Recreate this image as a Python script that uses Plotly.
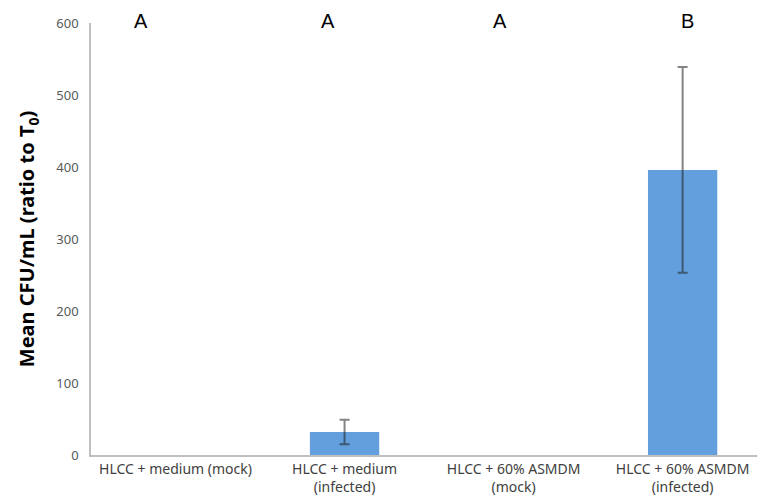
import plotly.graph_objects as go

categories = ["HLCC + medium (mock)", "HLCC + medium<br>(infected)",
              "HLCC + 60% ASMDM<br>(mock)", "HLCC + 60% ASMDM<br>(infected)"]
values = [0, 32, 0, 396]
errors = [0, 17, 0, 143]
letters = ["A", "A", "A", "B"]
letter_x = [141, 328, 500, 687]
y_ticks = [0, 100, 200, 300, 400, 500, 600]

W, H = 757, 499
ml, mr, mt, mb = 91, 0, 23, 44
pw, ph = W - ml - mr, H - mt - mb

xs = list(range(len(categories)))
fig = go.Figure()
fig.add_trace(go.Bar(
    x=xs, y=values,
    width=0.41,
    marker=dict(color="#629fdc", line=dict(width=0)),
    hoverinfo="skip",
))
ex = [x for x, e in zip(xs, errors) if e > 0]
ey = [v for v, e in zip(values, errors) if e > 0]
ee = [e for e in errors if e > 0]
fig.add_trace(go.Scatter(
    x=ex, y=ey, mode="markers", marker=dict(size=1, opacity=0),
    error_y=dict(type="data", array=ee, visible=True,
                 color="rgba(30,30,30,0.55)", thickness=2, width=5),
    hoverinfo="skip",
))

for lx, lt in zip(letter_x, letters):
    fig.add_annotation(x=(lx - ml) / pw, y=(H - mb - 20.5) / ph, xref="paper", yref="paper",
                       text=lt, showarrow=False,
                       font=dict(family="Liberation Sans", size=20, color="#000000"),
                       xanchor="center", yanchor="middle")

fig.update_layout(
    width=W, height=H,
    margin=dict(l=ml, r=mr, t=mt, b=mb, pad=0),
    paper_bgcolor="white", plot_bgcolor="white",
    showlegend=False,
    xaxis=dict(
        range=[-0.5, 3.44], automargin=False,
        tickmode="array", tickvals=xs, ticktext=categories,
        showgrid=False, zeroline=False,
        showline=True, linecolor="#bfbfbf", linewidth=1.5,
        ticks="", tickfont=dict(family="Noto Sans", size=14, color="#404040"),
    ),
    yaxis=dict(
        range=[0, 600], tickmode="array", tickvals=y_ticks, automargin=False,
        showgrid=False, zeroline=False,
        showline=True, linecolor="#bfbfbf", linewidth=1.5,
        ticks="", ticklabelstandoff=8,
        tickfont=dict(family="Noto Sans", size=13, color="#595959"),
        title=dict(text="<b>Mean CFU/mL (ratio to T<sub>0</sub>)</b>",
                   font=dict(family="Noto Sans", size=20, color="#000000"),
                   standoff=16),
    ),
)

fig.write_html("out.html", config={"displayModeBar": False},
               post_script="document.body.style.margin='0';document.body.style.overflow='hidden';")
